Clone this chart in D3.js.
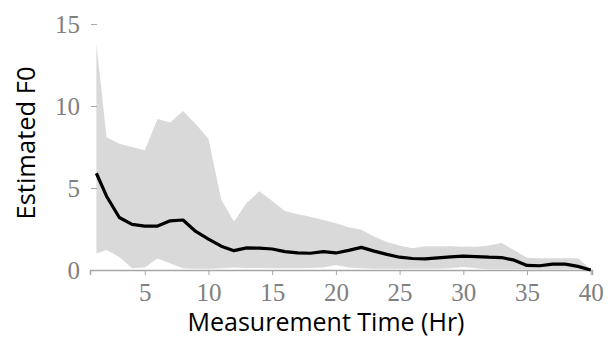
<!DOCTYPE html>
<html>
<head>
<meta charset="utf-8">
<script src="https://cdn.jsdelivr.net/npm/d3@7"></script>
<style>
html,body{margin:0;padding:0;background:#fff;}
svg{display:block;}
</style>
</head>
<body>
<svg id="chart" width="610" height="340"></svg>
<script>
// Measurement times (hours)
const times = [1.2,2,3,4,5,6,7,8,9,10,11,12,13,14,15,16,17,18,19,20,21,22,23,24,25,26,27,28,29,30,31,32,33,34,35,36,37,38,39,40];
// Mean estimated F0
const meanF0 = [5.9,4.5,3.2,2.78,2.68,2.68,3.0,3.05,2.35,1.88,1.45,1.18,1.35,1.33,1.28,1.12,1.04,1.02,1.12,1.04,1.2,1.38,1.15,0.95,0.78,0.7,0.68,0.74,0.8,0.85,0.82,0.78,0.76,0.6,0.28,0.26,0.36,0.36,0.22,0.0];
// Upper bound of band
const upperF0 = [13.8,8.1,7.7,7.5,7.3,9.2,9.0,9.7,8.9,8.0,4.3,2.95,4.1,4.8,4.2,3.6,3.4,3.25,3.05,2.85,2.6,2.45,2.05,1.7,1.5,1.32,1.45,1.45,1.45,1.42,1.42,1.5,1.65,1.2,0.75,0.72,0.72,0.72,0.72,0.05];
// Lower bound of band
const lowerF0 = [1.0,1.22,0.8,0.1,0.15,0.7,0.4,0.1,0.08,0.08,0.1,0.15,0.12,0.12,0.1,0.1,0.1,0.12,0.15,0.3,0.15,0.1,0.08,0.08,0.08,0.08,0.08,0.08,0.1,0.18,0.1,0.05,0.05,0.05,0.05,0.05,0.05,0.05,0.05,0.0];
const xTicks = [5,10,15,20,25,30,35,40];
const yTicks = [0,5,10,15];
const xTitle = "Measurement Time (Hr)";
const yTitle = "Estimated F0";

const data = times.map((t,i)=>({t, m:meanF0[i], hi:upperF0[i], lo:lowerF0[i]}));

const svg = d3.select("#chart");
const x = d3.scaleLinear().domain([0.7, 40.1]).range([90, 592]);
const y = d3.scaleLinear().domain([0, 15]).range([270, 24]);

// band
svg.append("path")
  .datum(data)
  .attr("fill", "#d9d9d9")
  .attr("d", d3.area().x(d=>x(d.t)).y0(d=>y(d.lo)).y1(d=>y(d.hi)));

// x axis
const gx = svg.append("g")
  .attr("transform", `translate(0,${y(0)})`)
  .call(d3.axisBottom(x).tickValues(xTicks).tickSizeOuter(0).tickSize(5).tickPadding(8));
gx.select(".domain").attr("stroke", "#a6a6a6").attr("stroke-width", 1.5);
gx.selectAll(".tick line").attr("stroke", "#a6a6a6");
gx.selectAll(".tick text")
  .attr("fill", "#808080")
  .style("font-family", "'Liberation Serif', 'DejaVu Serif', serif")
  .style("font-size", "25px");

// y axis
const gy = svg.append("g")
  .attr("transform", `translate(97,0)`)
  .call(d3.axisLeft(y).tickValues(yTicks).tickSize(6).tickPadding(11));
gy.select(".domain").remove();
gy.selectAll(".tick line").attr("stroke", "#a6a6a6");
gy.selectAll(".tick text")
  .attr("fill", "#808080")
  .style("font-family", "'Liberation Serif', 'DejaVu Serif', serif")
  .style("font-size", "25px");

// mean line
svg.append("path")
  .datum(data)
  .attr("fill", "none")
  .attr("stroke", "#000")
  .attr("stroke-width", 3.2)
  .attr("stroke-linejoin", "round")
  .attr("d", d3.line().x(d=>x(d.t)).y(d=>y(d.m)));

// titles
svg.append("text")
  .attr("x", 326).attr("y", 331)
  .attr("text-anchor", "middle")
  .style("font-family", "'Open Sans', 'Noto Sans', sans-serif")
  .style("font-size", "25px")
  .attr("fill", "#000")
  .text(xTitle);

svg.append("text")
  .attr("transform", "translate(35,143) rotate(-90)")
  .attr("text-anchor", "middle")
  .style("font-family", "'Open Sans', 'Noto Sans', sans-serif")
  .style("font-size", "25.5px")
  .attr("fill", "#000")
  .text(yTitle);
</script>
</body>
</html>
